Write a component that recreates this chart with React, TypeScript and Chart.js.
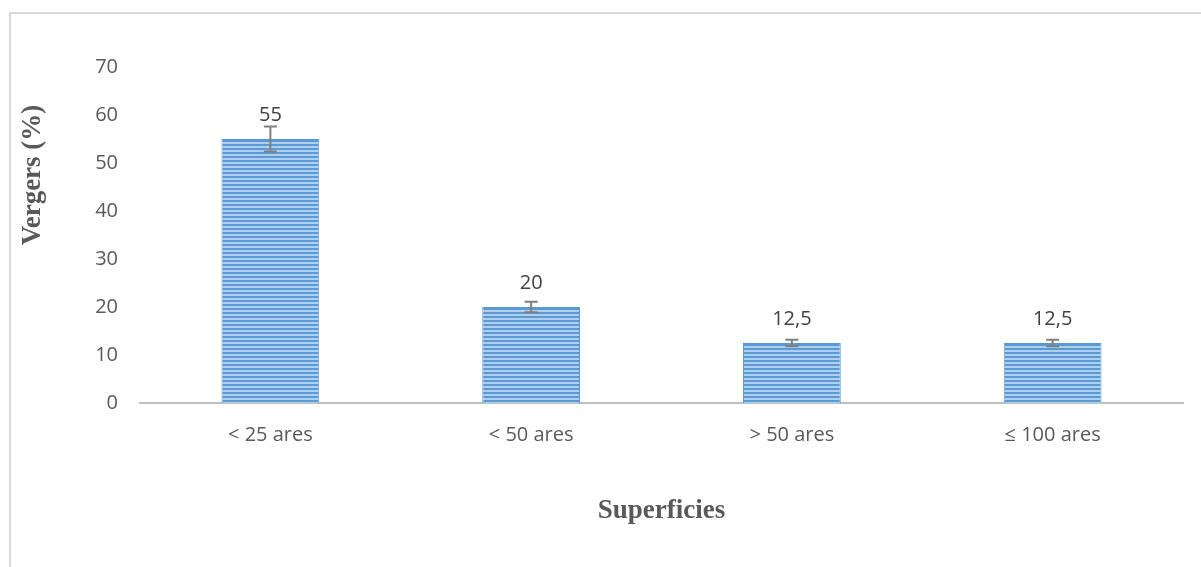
import React, { useEffect, useRef } from "react";
import { Chart, registerables } from "chart.js";

Chart.register(...registerables);

const categories = ["< 25 ares", "< 50 ares", "> 50 ares", "≤ 100 ares"];
const values = [55, 20, 12.5, 12.5];
const errors = [2.6, 1.1, 0.7, 0.7];
const valueLabels = ["55", "20", "12,5", "12,5"];
const yTitle = "Vergers (%)";
const xTitle = "Superficies";

function makeStripePattern(): CanvasPattern | string {
  const c = document.createElement("canvas");
  c.width = 8;
  c.height = 4;
  const ctx = c.getContext("2d");
  if (!ctx) return "#5b9bd5";
  ctx.fillStyle = "#5b9bd5";
  ctx.fillRect(0, 0, 8, 2);
  ctx.fillStyle = "#b0cfed";
  ctx.fillRect(0, 2, 8, 2);
  return ctx.createPattern(c, "repeat") || "#5b9bd5";
}

const errorAndLabelPlugin = {
  id: "errorAndLabel",
  afterDatasetsDraw(chart: any) {
    const ctx = chart.ctx;
    const y = chart.scales.y;
    const meta = chart.getDatasetMeta(0);
    ctx.save();
    meta.data.forEach((bar: any, i: number) => {
      const x = bar.x;
      const top = y.getPixelForValue(values[i] + errors[i]);
      const bot = y.getPixelForValue(values[i] - errors[i]);
      ctx.strokeStyle = "#7f7f7f";
      ctx.lineWidth = 2;
      ctx.beginPath();
      ctx.moveTo(x, top);
      ctx.lineTo(x, bot);
      ctx.moveTo(x - 6.5, top);
      ctx.lineTo(x + 6.5, top);
      ctx.moveTo(x - 6.5, bot);
      ctx.lineTo(x + 6.5, bot);
      ctx.stroke();
      ctx.fillStyle = "#404040";
      ctx.font = "20px 'Open Sans'";
      ctx.textAlign = "center";
      ctx.textBaseline = "middle";
      ctx.fillText(valueLabels[i], x, y.getPixelForValue(values[i]) - 24);
    });
    ctx.restore();
  },
  afterDraw(chart: any) {
    const ctx = chart.ctx;
    ctx.save();
    ctx.translate(33, 175);
    ctx.rotate(-Math.PI / 2);
    ctx.fillStyle = "#595959";
    ctx.font = "bold 27px 'Liberation Serif'";
    ctx.textAlign = "center";
    ctx.textBaseline = "middle";
    ctx.fillText(yTitle, 0, 0);
    ctx.restore();
  },
};

export default function App() {
  const ref = useRef<HTMLCanvasElement>(null);
  useEffect(() => {
    if (!ref.current) return;
    const pattern = makeStripePattern();
    const chart = new Chart(ref.current, {
      type: "bar",
      data: {
        labels: categories,
        datasets: [
          {
            data: values,
            backgroundColor: pattern as any,
            borderColor: "#5b9bd5",
            borderWidth: 1,
            categoryPercentage: 1,
            barPercentage: 0.375,
          },
        ],
      },
      options: {
        animation: false,
        responsive: false,
        maintainAspectRatio: false,
        layout: { padding: { left: 0, right: 18, top: 67, bottom: 0 } },
        plugins: { legend: { display: false }, tooltip: { enabled: false } },
        scales: {
          x: {
            grid: { display: false, drawTicks: false },
            border: { display: true, color: "#bfbfbf", width: 2 },
            ticks: {
              color: "#595959",
              font: { family: "'Open Sans'", size: 20 },
              padding: 20,
            },
            title: {
              display: true,
              text: xTitle,
              color: "#595959",
              font: { family: "'Liberation Serif'", size: 27, weight: "bold" },
              padding: { top: 0, bottom: 40 },
            },
            afterFit(scale: any) {
              scale.height = 164;
            },
          },
          y: {
            min: 0,
            max: 70,
            grid: { display: false, drawTicks: false },
            border: { display: false },
            ticks: {
              stepSize: 10,
              color: "#595959",
              font: { family: "'Open Sans'", size: 20 },
              padding: 22,
            },
            afterFit(scale: any) {
              scale.width = 140;
            },
          },
        },
      },
      plugins: [errorAndLabelPlugin],
    });
    return () => chart.destroy();
  }, []);
  return (
    <div
      style={{
        position: "fixed",
        left: 0,
        top: 0,
        width: 1201,
        height: 567,
        background: "#fff",
        overflow: "hidden",
      }}
    >
      <div
        style={{
          position: "absolute",
          left: 9,
          top: 12,
          width: 1300,
          height: 700,
          border: "2px solid #d9d9d9",
        }}
      />
      <canvas
        ref={ref}
        width={1201}
        height={567}
        style={{ position: "absolute", left: 0, top: 0, width: 1201, height: 567 }}
      />
    </div>
  );
}
